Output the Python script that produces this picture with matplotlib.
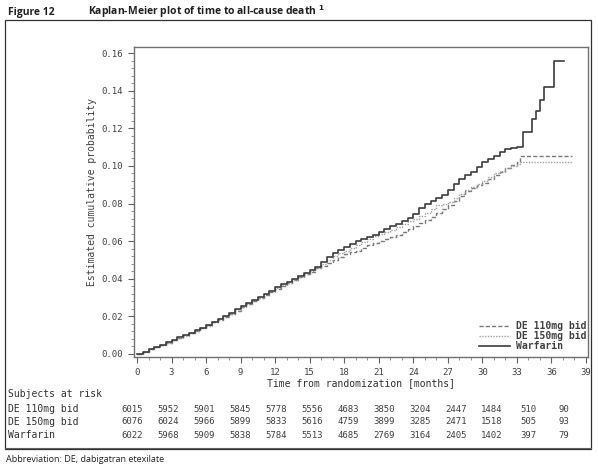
import matplotlib
matplotlib.use("Agg")
import matplotlib.pyplot as plt
from matplotlib.patches import Rectangle
from matplotlib.lines import Line2D
from matplotlib.ticker import MultipleLocator, FixedLocator

# ---------------- data ----------------
months = [0, 0.5, 1, 1.5, 2, 2.5, 3, 3.5, 4, 4.5, 5, 5.5, 6, 6.5, 7, 7.5, 8, 8.5,
          9, 9.5, 10, 10.5, 11, 11.5, 12, 12.5, 13, 13.5, 14, 14.5, 15, 15.5, 16,
          16.5, 17, 17.5, 18, 18.5, 19, 19.5, 20, 20.5, 21, 21.5, 22, 22.5, 23,
          23.5, 24, 24.5, 25, 25.5, 26, 26.5, 27, 27.5, 28, 28.5, 29, 29.5, 30,
          30.5, 31, 31.5, 32, 32.5, 33]

warf_vals = [0.0000, 0.0012, 0.0025, 0.0037, 0.0050, 0.0062, 0.0075, 0.0088,
             0.0100, 0.0112, 0.0125, 0.0140, 0.0155, 0.0172, 0.0188, 0.0203,
             0.0220, 0.0237, 0.0255, 0.0270, 0.0288, 0.0303, 0.0320, 0.0337,
             0.0355, 0.0370, 0.0385, 0.0400, 0.0415, 0.0430, 0.0445, 0.0465,
             0.0490, 0.0515, 0.0538, 0.0555, 0.0570, 0.0585, 0.0600, 0.0610,
             0.0622, 0.0635, 0.0650, 0.0665, 0.0678, 0.0690, 0.0705, 0.0722,
             0.0745, 0.0775, 0.0800, 0.0815, 0.0830, 0.0845, 0.0870, 0.0905,
             0.0930, 0.0950, 0.0970, 0.0995, 0.1020, 0.1035, 0.1050, 0.1075,
             0.1090, 0.1095, 0.1100]
warf_tail_t = [33.5, 34.3, 34.7, 35.0, 35.4, 36.2, 37.1]
warf_tail_v = [0.118, 0.125, 0.129, 0.135, 0.142, 0.156, 0.156]

de150_vals = [0.0000, 0.0012, 0.0024, 0.0036, 0.0049, 0.0060, 0.0072, 0.0085,
              0.0098, 0.0110, 0.0122, 0.0136, 0.0150, 0.0168, 0.0185, 0.0200,
              0.0215, 0.0232, 0.0250, 0.0268, 0.0285, 0.0300, 0.0318, 0.0335,
              0.0350, 0.0365, 0.0380, 0.0395, 0.0410, 0.0425, 0.0440, 0.0458,
              0.0478, 0.0500, 0.0520, 0.0535, 0.0550, 0.0565, 0.0580, 0.0595,
              0.0610, 0.0625, 0.0640, 0.0650, 0.0660, 0.0675, 0.0690, 0.0705,
              0.0720, 0.0735, 0.0750, 0.0770, 0.0790, 0.0800, 0.0810, 0.0830,
              0.0850, 0.0870, 0.0890, 0.0905, 0.0920, 0.0940, 0.0960, 0.0975,
              0.0990, 0.1000, 0.1010]
de150_tail_t = [33.3, 37.8]
de150_tail_v = [0.102, 0.102]

de110_vals = [0.0000, 0.0012, 0.0024, 0.0036, 0.0048, 0.0061, 0.0073, 0.0086,
              0.0099, 0.0111, 0.0124, 0.0138, 0.0152, 0.0168, 0.0183, 0.0198,
              0.0213, 0.0230, 0.0248, 0.0264, 0.0280, 0.0298, 0.0315, 0.0332,
              0.0348, 0.0363, 0.0378, 0.0393, 0.0408, 0.0423, 0.0438, 0.0455,
              0.0470, 0.0485, 0.0500, 0.0515, 0.0530, 0.0540, 0.0550, 0.0565,
              0.0580, 0.0590, 0.0600, 0.0610, 0.0620, 0.0635, 0.0650, 0.0665,
              0.0680, 0.0695, 0.0710, 0.0730, 0.0750, 0.0770, 0.0790, 0.0815,
              0.0840, 0.0865, 0.0885, 0.0900, 0.0910, 0.0930, 0.0950, 0.0970,
              0.0990, 0.1005, 0.1020]
de110_tail_t = [33.3, 37.8]
de110_tail_v = [0.105, 0.105]

x_ticks = [0, 3, 6, 9, 12, 15, 18, 21, 24, 27, 30, 33, 36, 39]
y_ticks = [0.00, 0.02, 0.04, 0.06, 0.08, 0.10, 0.12, 0.14, 0.16]

risk_groups = ["DE 110mg bid", "DE 150mg bid", "Warfarin"]
risk_110 = [6015, 5952, 5901, 5845, 5778, 5556, 4683, 3850, 3204, 2447, 1484, 510, 90]
risk_150 = [6076, 6024, 5966, 5899, 5833, 5616, 4759, 3899, 3285, 2471, 1518, 505, 93]
risk_warf = [6022, 5968, 5909, 5838, 5784, 5513, 4685, 2769, 3164, 2405, 1402, 397, 79]

# ---------------- figure ----------------
W, H = 598, 466
fig = plt.figure(figsize=(W / 100, H / 100), dpi=100)
fig.patch.set_facecolor("white")

def fx(px):
    return px / W

def fy(py):
    return 1 - py / H

mono = "DejaVu Sans Mono"
sans = "Open Sans"

# axes rectangle in pixels: left 134, right 588, top 47, bottom 357
ax = fig.add_axes([fx(134), fy(357), fx(588) - fx(134), fy(47) - fy(357)])
ax.set_xlim(-0.26, 39.18)
ax.set_ylim(-0.0016, 0.1632)

tw = months + warf_tail_t
vw = warf_vals + warf_tail_v
t150 = months + de150_tail_t
v150 = de150_vals + de150_tail_v
t110 = months + de110_tail_t
v110 = de110_vals + de110_tail_v

ax.plot(t110, v110, drawstyle="steps-post", color="#7a7a7a", lw=1.0,
        dashes=(3, 1.5), label="DE 110mg bid")
ax.plot(t150, v150, drawstyle="steps-post", color="#a0a0a0", lw=1.0,
        dashes=(1, 1), label="DE 150mg bid")
ax.plot(tw, vw, drawstyle="steps-post", color="#3c3c3c", lw=1.2,
        label="Warfarin")

for s in ax.spines.values():
    s.set_color("#707070")
    s.set_linewidth(1.0)

ax.xaxis.set_major_locator(FixedLocator(x_ticks))
ax.xaxis.set_minor_locator(MultipleLocator(1))
ax.yaxis.set_major_locator(FixedLocator(y_ticks))
ax.yaxis.set_minor_locator(MultipleLocator(0.004))
ax.set_xticklabels([str(t) for t in x_ticks])
ax.set_yticklabels(["%.2f" % v for v in y_ticks])
ax.tick_params(axis="both", which="major", length=4, width=0.8, color="#606060",
               labelsize=6.5, labelcolor="#404040", pad=4)
ax.tick_params(axis="both", which="minor", length=2, width=0.6, color="#808080")
for lab in ax.get_xticklabels() + ax.get_yticklabels():
    lab.set_fontfamily(mono)

ax.set_xlabel("Time from randomization [months]", fontfamily=mono, fontsize=7,
              color="#303030", labelpad=1)
ax.set_ylabel("Estimated cumulative probability", fontfamily=mono, fontsize=7,
              color="#404040")
ax.yaxis.set_label_coords((97 - 134) / 454, (357 - 192) / 310)

leg = ax.legend(loc="lower right", bbox_to_anchor=(fx(586), fy(351)),
                bbox_transform=fig.transFigure, frameon=False,
                prop={"family": mono, "size": 7, "weight": "bold"},
                handlelength=3.2, handletextpad=0.6, labelspacing=0.0,
                borderpad=0, borderaxespad=0)
for t in leg.get_texts():
    t.set_color("#404040")

# ---------------- titles ----------------
fig.text(fx(8), fy(12), "Figure 12", fontfamily=sans, fontweight="bold",
         fontsize=7.5, va="center", ha="left", color="#202020")
fig.text(fx(88), fy(12), "Kaplan-Meier plot of time to all-cause death $^{\\mathbf{1}}$",
         fontfamily=sans, fontweight="bold", fontsize=7.5, va="center", ha="left",
         color="#202020")

# outer frame
fig.add_artist(Rectangle((fx(5), fy(449)), fx(591) - fx(5), fy(20) - fy(449),
                         transform=fig.transFigure, fill=False,
                         edgecolor="#303030", lw=0.9))
fig.add_artist(Line2D([fx(5), fx(591)], [fy(447.5), fy(447.5)],
                      transform=fig.transFigure, color="#606060", lw=0.8))

# ---------------- risk table ----------------
fig.text(fx(8), fy(394), "Subjects at risk", fontfamily=mono, fontsize=7,
         va="center", ha="left", color="#303030")
rows_y = [409, 422, 435]
for name, vals, yy in zip(risk_groups, [risk_110, risk_150, risk_warf], rows_y):
    fig.text(fx(8), fy(yy), name, fontfamily=mono, fontsize=7, va="center",
             ha="left", color="#303030")
    for i, v in enumerate(vals):
        fig.text(fx(132 + 36 * i), fy(yy), str(v), fontfamily=mono, fontsize=6.5,
                 va="center", ha="center", color="#404040")

fig.text(fx(6), fy(459), "Abbreviation: DE, dabigatran etexilate", fontfamily=sans,
         fontsize=6.5, va="center", ha="left", color="#202020")

fig.savefig("out.png", dpi=100, facecolor="white")
